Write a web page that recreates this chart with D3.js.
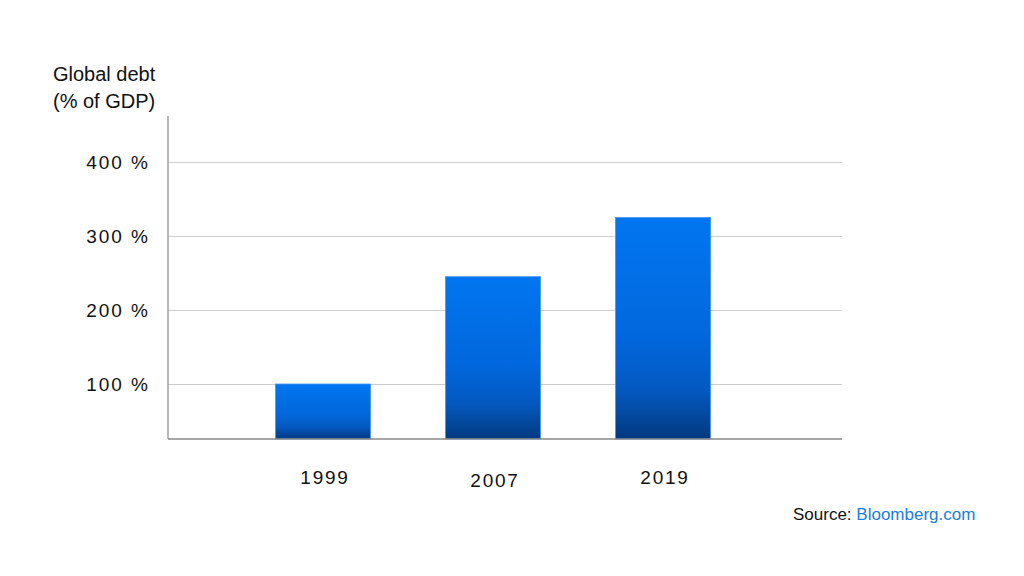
<!DOCTYPE html>
<html><head><meta charset="utf-8">
<script src="https://cdn.jsdelivr.net/npm/d3@7"></script>
<style>body{margin:0;background:#fff}svg{display:block;font-family:"Liberation Sans",Arial,sans-serif}</style>
</head><body><svg id="c" width="1024" height="576"></svg>
<script>
const years = ["1999", "2007", "2019"];
const debt = [100, 245, 325];
const yTicks = [100, 200, 300, 400];
const titleLines = ["Global debt", "(% of GDP)"];

const svg = d3.select("#c");
const x = d3.scaleBand().domain(years).range([238, 748]).paddingInner(0.44).paddingOuter(0.22);
const y = d3.scaleLinear().domain([25.7, 462]).range([439, 116]);

const defs = svg.append("defs");
const g = defs.append("linearGradient").attr("id","bg").attr("x1",0).attr("y1",0).attr("x2",0).attr("y2",1);
[[0,"#0176f0"],[0.55,"#0267dc"],[0.78,"#0459c0"],[1,"#02397f"]].forEach(s=>g.append("stop").attr("offset",s[0]).attr("stop-color",s[1]));

// gridlines
svg.append("g").attr("transform","translate(168,0)")
  .call(d3.axisLeft(y).tickValues(yTicks).tickSize(-674).tickFormat(""))
  .call(a=>a.select(".domain").remove())
  .call(a=>a.selectAll("line").attr("stroke","#cccccc"));

// labels
svg.append("g").selectAll("text").data(yTicks).join("text")
  .attr("x",150).attr("y",d=>y(d)+7).attr("text-anchor","end")
  .attr("font-size",19).attr("letter-spacing",2).attr("fill","#111")
  .text(d=>d+" %");

// bars
svg.append("g").selectAll("rect").data(years).join("rect")
  .attr("x",d=>x(d)).attr("width",x.bandwidth())
  .attr("y",(d,i)=>y(debt[i])).attr("height",(d,i)=>y.range()[0]-y(debt[i]))
  .attr("fill","url(#bg)").attr("stroke","#4f98ee").attr("stroke-width",0.8);

// axes lines
svg.append("line").attr("x1",168).attr("x2",168).attr("y1",116).attr("y2",439).attr("stroke","#888").attr("stroke-width",1.2);
svg.append("line").attr("x1",168).attr("x2",842).attr("y1",439).attr("y2",439).attr("stroke","#888").attr("stroke-width",1.5);

// x labels
const yOff = {"1999":0,"2007":3,"2019":0};
svg.append("g").selectAll("text").data(years).join("text")
  .attr("x",d=>x(d)+x.bandwidth()/2 + 2).attr("y",d=>484+yOff[d]).attr("text-anchor","middle")
  .attr("font-size",19).attr("letter-spacing",1.8).attr("fill","#111").text(d=>d);

// title
svg.append("g").selectAll("text").data(titleLines).join("text")
  .attr("x",53).attr("y",(d,i)=>81+i*27).attr("font-size",20).attr("fill","#111").text(d=>d);

// source
const src = svg.append("text").attr("x",793).attr("y",520).attr("font-size",17).attr("fill","#111");
src.append("tspan").text("Source: ");
src.append("tspan").attr("fill","#1a7de0").text("Bloomberg.com");
</script></body></html>
